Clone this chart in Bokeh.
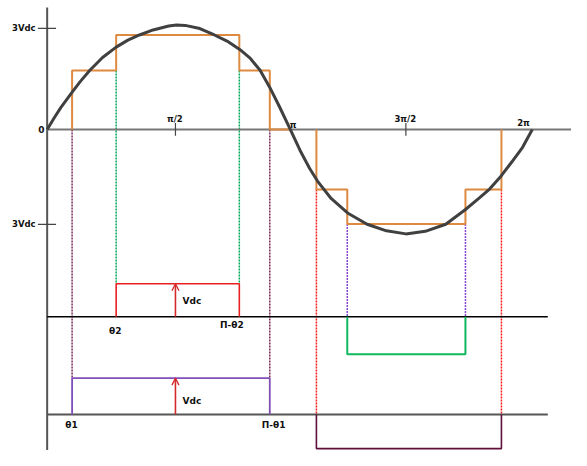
from bokeh.plotting import figure
from bokeh.models import Arrow, OpenHead
from bokeh.core.properties import value
from bokeh.embed import file_html
from bokeh.resources import INLINE

# ---------------- data (x in degrees, y in Vdc units) ----------------
# switching angles: theta1, theta2, pi-theta2, pi-theta1, pi+theta1, pi+theta2, 2pi-theta2, 2pi-theta1
sw_angles = [18.5, 51.2, 142.6, 165.2, 199.8, 222.7, 310.4, 337.1]
level1 = 1.75
level2 = 2.80
neg_level1 = -1.78
neg_level2 = -2.81

# fundamental sine
sine_x = [0, 5.05, 10.1, 18.0, 24.5, 31.7, 41.1, 51.2, 59.9, 68.5, 78.6, 90.2, 96.0,
          102.4, 113.3, 124.1, 133.5, 142.9, 150.8, 158.0, 165.2, 172.4, 180.4,
          187.6, 194.8, 200.6, 210.7, 222.9, 237.4, 251.8, 266.2, 280.6, 295.8,
          310.2, 320.3, 328.3, 336.9, 344.9, 352.8, 360.0]
sine_y = [0, 0.33, 0.645, 1.075, 1.418, 1.754, 2.135, 2.441, 2.650, 2.802, 2.951, 3.066, 3.095,
          3.086, 2.994, 2.802, 2.622, 2.372, 2.106, 1.754, 1.246, 0.673, 0,
          -0.616, -1.160, -1.533, -2.049, -2.479, -2.814, -3.009, -3.100, -3.023, -2.814,
          -2.384, -2.049, -1.771, -1.381, -0.960, -0.530, 0]

# axis ticks
ytick_vals = [3.0, -2.82]
ytick_labels = ["3Vdc", "3Vdc"]
xtick_vals = [95.2, 266.2]
xtick_labels = ["\u03c0/2", "3\u03c0/2"]

# lower pulse diagrams
base1 = -5.56
base2 = -8.46
pulse_top1 = -4.58      # +Vdc pulse (theta2 .. pi-theta2)
pulse_bot1 = -6.67      # -Vdc pulse (pi+theta2 .. 2pi-theta2)
pulse_top2 = -7.38      # +Vdc pulse (theta1 .. pi-theta1)
pulse_bot2 = -9.47      # -Vdc pulse (pi+theta1 .. 2pi-theta1)
arrow_x = 95.2

t1, t2, pt2, pt1, qt1, qt2, rt2, rt1 = sw_angles

X0, X1 = -34.63, 389.1
Y0, Y1 = -9.527, 3.825

# ---------------- figure ----------------
p = figure(width=571, height=450, x_range=(X0, X1), y_range=(Y0, Y1),
           output_backend="svg", toolbar_location=None, min_border=0,
           min_border_left=0, min_border_right=0, min_border_top=0, min_border_bottom=0)
p.axis.visible = False
p.grid.visible = False
p.outline_line_color = None
p.background_fill_color = "white"
p.border_fill_color = "white"

FONT = value("DejaVu Sans")
DOT = "2 1"

# vertical dotted guide lines
p.line([t1, t1], [0, pulse_top2], color="#7b2a55", line_width=1.5, line_dash=DOT)
p.line([pt1, pt1], [0, pulse_top2], color="#7b2a55", line_width=1.5, line_dash=DOT)
p.line([t2, t2], [level1, pulse_top1], color="#00a85a", line_width=1.5, line_dash=DOT)
p.line([pt2, pt2], [level1, pulse_top1], color="#00a85a", line_width=1.5, line_dash=DOT)
p.line([qt1, qt1], [neg_level1, base2], color="#ff1a1a", line_width=1.5, line_dash=DOT)
p.line([rt1, rt1], [neg_level1, base2], color="#ff1a1a", line_width=1.5, line_dash=DOT)
p.line([qt2, qt2], [neg_level2, base1], color="#8a45d0", line_width=1.5, line_dash=DOT)
p.line([rt2, rt2], [neg_level2, base1], color="#8a45d0", line_width=1.5, line_dash=DOT)

# axes
p.line([0, 0], [3.62, Y0], color="#555555", line_width=2)
p.line([0, X1], [0, 0], color="#777777", line_width=2)
p.line([0, 371.5], [base1, base1], color="#000000", line_width=1.5)
p.line([0, 371.5], [base2, base2], color="#555555", line_width=2)

# tick marks
for yv in ytick_vals:
    p.line([-6.9, 6.6], [yv, yv], color="#444444", line_width=1.2)
for xv in xtick_vals:
    p.line([xv, xv], [0.19, -0.19], color="#444444", line_width=1.2)

# staircase
p.line([t1, t1, t2, t2, pt2, pt2, pt1, pt1, 180.0],
       [0, level1, level1, level2, level2, level1, level1, 0, 0],
       color="#de8a40", line_width=2)
p.line([qt1, qt1, qt2, qt2, rt2, rt2, rt1, rt1],
       [0, neg_level1, neg_level1, neg_level2, neg_level2, neg_level1, neg_level1, 0],
       color="#de8a40", line_width=2)

# sine
p.line(sine_x, sine_y, color="#404040", line_width=3)

# pulses
p.line([t2, t2, pt2, pt2], [base1, pulse_top1, pulse_top1, base1], color="#e82020", line_width=1.6)
p.line([qt2, qt2, rt2, rt2], [base1, pulse_bot1, pulse_bot1, base1], color="#10b860", line_width=2)
p.line([t1, t1, pt1, pt1], [base2, pulse_top2, pulse_top2, base2], color="#8050b8", line_width=1.8)
p.line([qt1, qt1, rt1, rt1], [base2, pulse_bot2, pulse_bot2, base2], color="#5e0f3a", line_width=1.6)

# arrows
for b, tp in [(base1, pulse_top1), (base2, pulse_top2)]:
    p.add_layout(Arrow(end=OpenHead(size=7, line_color="#d42a2a", line_width=1.3),
                       x_start=arrow_x, y_start=b, x_end=arrow_x, y_end=tp,
                       line_color="#d42a2a", line_width=1.6))

# texts
def label(x, y, s, size="9px", align="center"):
    p.text(x=[x], y=[y], text=[s], text_font=FONT, text_font_size=size,
           text_font_style="bold", text_align=align, text_baseline="middle",
           text_color="#111111")

for yv, s in zip(ytick_vals, ytick_labels):
    label(-17.3, yv, s, size="8.5px")
label(-4.3, 0, "0", size="9px")
for xv, s in zip(xtick_vals, xtick_labels):
    label(xv - 0.5, 0.30, s, size="8.5px")
label(182.5, 0.13, "\u03c0", size="8.5px")
label(353.5, 0.19, "2\u03c0", size="8.5px")
label(50.5, -5.97, "\u03b82", size="9px")
label(137.1, -5.80, "\u03a0-\u03b82", size="9px")
label(18.0, -8.78, "\u03b81", size="9px")
label(168.1, -8.78, "\u03a0-\u03b81", size="9px")
label(100.5, -5.09, "Vdc", size="9px", align="left")
label(100.5, -8.07, "Vdc", size="9px", align="left")

open("out.html", "w").write(file_html(p, INLINE))
